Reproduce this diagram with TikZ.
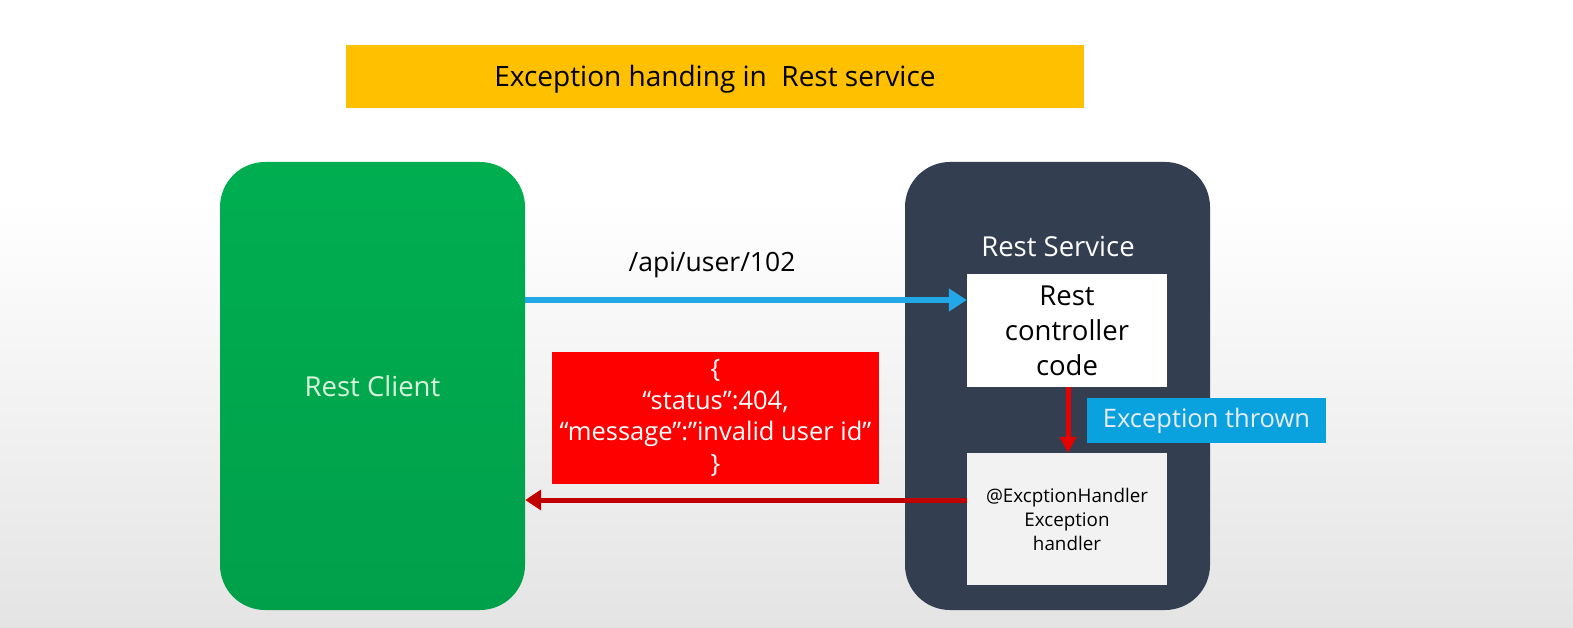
\documentclass[tikz,border=0pt]{standalone}
\usepackage{fontspec}
\setmainfont{Open Sans}
\usetikzlibrary{arrows.meta,positioning}
\definecolor{titleyellow}{HTML}{FFC000}
\definecolor{clientgreen}{HTML}{00AE50}
\definecolor{clientgreendark}{HTML}{00A04A}
\definecolor{servicedark}{HTML}{333F50}
\definecolor{handlergray}{HTML}{F2F2F2}
\definecolor{reqblue}{HTML}{22A8E6}
\definecolor{thrownblue}{HTML}{0AA2DE}
\definecolor{respred}{HTML}{FF0000}
\definecolor{respdarkred}{HTML}{C00000}
\definecolor{clienttext}{HTML}{D8F5DC}
\definecolor{thrownred}{HTML}{E60000}
\definecolor{bggray}{HTML}{E4E4E4}
\tikzset{
  bigbox/.style={rounded corners=45pt, minimum width=305pt, minimum height=448pt, inner sep=0pt},
  innerbox/.style={minimum width=200pt, inner sep=0pt, align=center},
  lbl/.style={inner sep=0pt, align=center},
  connector/.style={line width=#1, -{Triangle[length=16pt,width=20pt]}},
}
\begin{document}
\begin{tikzpicture}[x=1pt,y=-1pt]
\useasboundingbox (0,0) rectangle (1573,628);
\fill[white] (0,0) rectangle (1573,200);
\shade[top color=white, bottom color=bggray] (0,199) rectangle (1573,628);
% title
\node[fill=titleyellow, minimum width=738pt, minimum height=63pt, inner sep=0pt] (title) at (715,76.5) {};
\node[lbl, font=\fontsize{28}{32}\selectfont] (titlelbl) at (715,79.5) {Exception handing in\ \ Rest service};
% client
\node[bigbox, top color=clientgreen, bottom color=clientgreendark] (client) at (372.5,386) {};
\node[lbl, text=clienttext, font=\fontsize{27.5}{32}\selectfont] (clientlbl) at (372.5,386) {Rest Client};
% service
\node[bigbox, fill=servicedark] (service) at (1057.5,386) {};
\node[lbl, text=white, font=\fontsize{27.5}{32}\selectfont] (servicelbl) at (1058,247) {Rest Service};
\node[innerbox, fill=white, minimum height=113pt, font=\fontsize{27.5}{35}\selectfont] (ctrl) at (1067,330.5) {Rest\\controller\\code};
\node[innerbox, fill=handlergray, minimum height=132pt, font=\fontsize{18.8}{24}\selectfont] (handler) at (1067,519) {@ExcptionHandler\\Exception\\handler};
% exception thrown
\node[fill=thrownblue, minimum width=239pt, minimum height=45pt, inner sep=0pt, text=white!92!blue,
      font=\fontsize{25.5}{30}\selectfont] (thrown) at (1206.5,420.5) {Exception thrown};
% response box
\node[fill=respred, minimum width=327pt, minimum height=132pt, inner sep=0pt, align=center, text=white,
      font=\fontsize{25.5}{31.5}\selectfont] (resp) at (715.5,418) {\{\\“status”:404,\\“message”:”invalid user id”\\\}};
% request label
\node[lbl, font=\fontsize{26.5}{30}\selectfont] (reqlbl) at (712,265) {/api/user/102};
% connectors
\coordinate (reqstart) at (client.east |- 0,300);
\coordinate (reqend) at (ctrl.west |- 0,300);
\draw[connector=6pt, draw=reqblue, fill=reqblue, -{Triangle[length=18pt,width=22pt]}] (reqstart) -- (reqend);
\draw[connector=5pt, draw=thrownred, -{Triangle[length=16pt,width=16pt]}] (ctrl.south -| 1068,0) -- (handler.north -| 1068,0);
\coordinate (respstart) at (handler.west |- 0,500);
\coordinate (respend) at (client.east |- 0,500);
\draw[connector=5pt, draw=respdarkred, -{Triangle[length=16pt,width=20pt]}] (respstart) -- (respend);
\end{tikzpicture}
\end{document}
